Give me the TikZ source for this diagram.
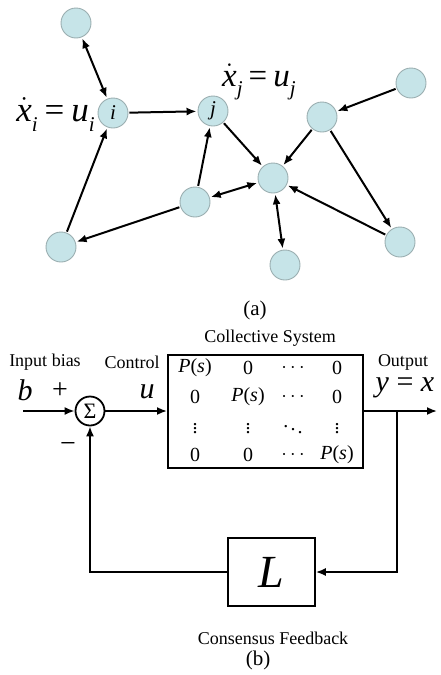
\RequirePackage{fix-cm}
\documentclass[tikz,border=0pt]{standalone}
\usepackage{fontspec}
\setmainfont{Liberation Serif}
\usetikzlibrary{arrows.meta}
\definecolor{nodefill}{HTML}{C6E4E8}
\definecolor{nodeline}{HTML}{9AAEB0}
\tikzset{
  agent/.style={circle,minimum size=30pt,inner sep=0pt,fill=nodefill,draw=nodeline,line width=0.9pt},
  edge/.style={line width=2pt,-{Latex[length=10pt,width=8pt]},shorten >=1pt,shorten <=1pt},
  bedge/.style={line width=2pt,{Latex[length=10pt,width=8pt]}-{Latex[length=10pt,width=8pt]},shorten >=1pt,shorten <=1pt},
  warrow/.style={line width=1.8pt,-{Latex[length=10pt,width=8pt]}},
  lbl/.style={font=\fontsize{18}{20}\selectfont,inner sep=0pt},
  ent/.style={font=\fontsize{20}{22}\selectfont,inner sep=0pt},
  bigm/.style={font=\fontsize{30}{32}\selectfont\itshape,inner sep=0pt},
}
\newcommand{\dotx}{$\dot{\hbox{\itshape x}}$}
\newcommand{\subit}[1]{\raisebox{-0.3em}{\fontsize{21}{21}\selectfont\itshape #1}}
\newcommand{\Ps}{{\itshape P}({\itshape s})}
\begin{document}
\begin{tikzpicture}[x=1pt,y=-1pt]
\useasboundingbox (0,0) rectangle (440,675);
% ---- part (a)
\node[agent,font=\fontsize{21}{23}\selectfont\itshape] (i) at (113,113) {i};
\node[agent,font=\fontsize{21}{23}\selectfont\itshape] (j) at (213,111) {j};
\node[agent] (tl) at (76,23) {};
\node[agent] (rt) at (411,83) {};
\node[agent] (rm) at (322,117) {};
\node[agent] (c) at (273,178) {};
\node[agent] (ml) at (195,202) {};
\node[agent] (bl) at (61,247) {};
\node[agent] (bc) at (285,265) {};
\node[agent] (br) at (400,242) {};
\node[anchor=base east,inner sep=0pt,font=\fontsize{35}{37}\selectfont] (li) at (95,121) {\dotx\subit{i}\hspace{7pt}=\hspace{7pt}{\itshape u}\subit{i}};
\node[anchor=base west,inner sep=0pt,font=\fontsize{33}{35}\selectfont] (lj) at (222,86) {\dotx\subit{j}\hspace{6pt}=\hspace{6pt}{\itshape u}\subit{j}};
\draw[bedge] (tl) -- (i);
\draw[edge] (i) -- (j);
\draw[edge] (j) -- (c);
\draw[edge] (rm) -- (c);
\draw[edge] (rt) -- (rm);
\draw[edge] (rm) -- (br);
\draw[edge] (br) -- (c);
\draw[bedge] (c) -- (bc);
\draw[bedge] (ml) -- (c);
\draw[edge] (ml) -- (j);
\draw[edge] (ml) -- (bl);
\draw[edge] (bl) -- (i);
\node[font=\fontsize{21}{23}\selectfont,inner sep=0pt] (capa) at (255,310) {(a)};
% ---- part (b)
\node[lbl] (cs) at (270,338) {Collective System};
\node[lbl] (ib) at (45,362) {Input bias};
\node[lbl] (ctl) at (132,362) {Control};
\node[lbl] (out) at (403,362) {Output};
\node[bigm] (b) at (25,390) {b};
\node[font=\fontsize{28}{30}\selectfont,inner sep=0pt] (plus) at (60,391) {+};
\node[bigm] (u) at (147,392) {u};
\node[font=\fontsize{30}{32}\selectfont,inner sep=0pt] (yx) at (405,388) {{\itshape y} = {\itshape x}};
\node[font=\fontsize{28}{30}\selectfont,inner sep=0pt] (minus) at (68,447) {−};
\node[circle,draw,line width=1.8pt,minimum size=29pt,inner sep=0pt,font=\fontsize{22}{24}\selectfont] (sum) at (90,411) {Σ};
\node[draw,line width=2pt,minimum width=195pt,minimum height=113pt,inner sep=0pt] (sys) at (265.5,411.5) {};
\node[draw,line width=1.6pt,minimum width=87pt,minimum height=68pt,inner sep=0pt,font=\fontsize{46}{48}\selectfont\itshape] (L) at (271.5,572) {L};
% matrix entries
\node[ent] (m11) at (195,368) {\Ps};
\node[ent] (m12) at (248,368) {0};
\node[ent] (m13) at (293,368) {$\cdots$};
\node[ent] (m14) at (337,368) {0};
\node[ent] (m21) at (195,397) {0};
\node[ent] (m22) at (248,397) {\Ps};
\node[ent] (m23) at (293,397) {$\cdots$};
\node[ent] (m24) at (337,397) {0};
\node[ent] (m31) at (195,426) {$\vdots$};
\node[ent] (m32) at (248,426) {$\vdots$};
\node[ent] (m33) at (293,426) {$\ddots$};
\node[ent] (m34) at (337,426) {$\vdots$};
\node[ent] (m41) at (195,455) {0};
\node[ent] (m42) at (248,455) {0};
\node[ent] (m43) at (293,455) {$\cdots$};
\node[ent] (m44) at (337,455) {\Ps};
\node[lbl] (cf) at (273,638) {Consensus Feedback};
\node[font=\fontsize{21}{23}\selectfont,inner sep=0pt] (capb) at (258,660) {(b)};
% wires
\coordinate (in) at (23,411);
\coordinate (oend) at (437,411);
\coordinate (br1) at (397,411);
\coordinate (br2) at (397,572);
\coordinate (fb) at (90,572);
\draw[warrow] (in) -- (sum);
\draw[warrow] (sum) -- (sys.west |- sum);
\draw[warrow] (sys.east |- sum) -- (oend);
\draw[warrow] (br1) -- (br2) -- (L.east);
\draw[warrow] (L.west) -- (fb) -- (sum.south);
\end{tikzpicture}
\end{document}
